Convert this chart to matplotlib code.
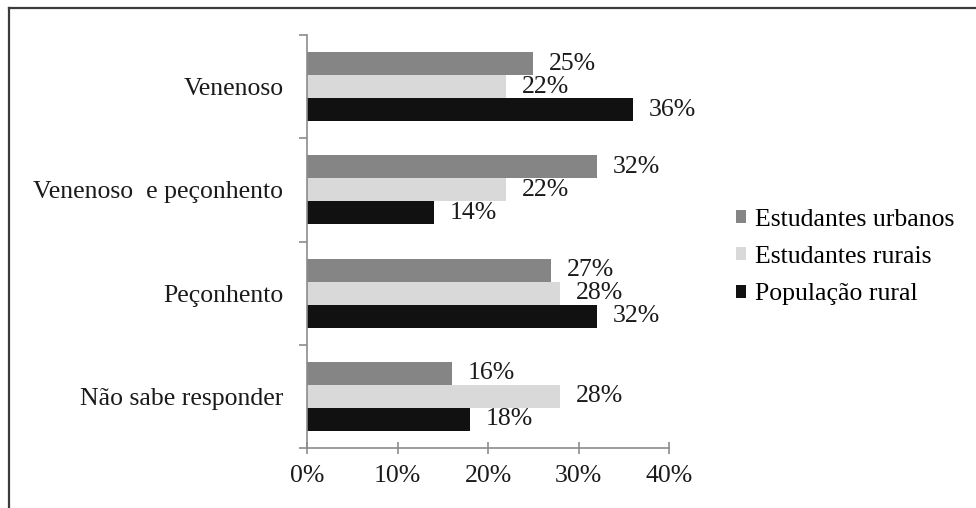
import matplotlib
matplotlib.use('Agg')
import matplotlib.pyplot as plt
from matplotlib.patches import Patch
from matplotlib.lines import Line2D
import numpy as np

# Survey answers (percent), categories listed top to bottom
categories = ['Venenoso', 'Venenoso  e peçonhento', 'Peçonhento', 'Não sabe responder']
series_names = ['Estudantes urbanos', 'Estudantes rurais', 'População rural']
urbanos = [25, 32, 27, 16]
rurais = [22, 22, 28, 28]
populacao = [36, 14, 32, 18]
x_ticks = [0, 10, 20, 30, 40]

colors = ['#858585', '#d9d9d9', '#111111']
FONT = 'Liberation Serif'
FS = 18.5

plt.rcParams['font.family'] = [FONT, 'DejaVu Serif']


def main():
    fig = plt.figure(figsize=(9.76, 5.08), dpi=100)
    ax = fig.add_axes([307 / 976, 1 - 448 / 508, (669 - 307) / 976, (448 - 35) / 508])

    n = len(categories)
    y = np.arange(n)
    bar_h = 1 / 1.5 / 3
    offsets = [-bar_h, 0, bar_h]

    for vals, off, col in zip([urbanos, rurais, populacao], offsets, colors):
        ax.barh(y + off, vals, height=bar_h, color=col, edgecolor='none')
        for yi, v in zip(y, vals):
            ax.text(v + 1.75, yi + off, f'{v}%', ha='left', va='center',
                    fontsize=FS, color='#1a1a1a')

    ax.set_xlim(0, 40)
    ax.set_ylim(n - 0.5, -0.5)

    # axes styling
    for side in ['top', 'right']:
        ax.spines[side].set_visible(False)
    for side in ['left', 'bottom']:
        ax.spines[side].set_color('#8c8c8c')
        ax.spines[side].set_linewidth(1.2)

    ax.set_xticks(x_ticks)
    ax.set_xticklabels([f'{t}%' for t in x_ticks], fontsize=FS, color='#1a1a1a')
    ax.tick_params(axis='x', direction='inout', length=9, width=1.2, color='#8c8c8c', pad=8)

    ax.set_yticks(y)
    ax.set_yticklabels(categories, fontsize=FS, color='#1a1a1a')
    ax.set_yticks(np.arange(n + 1) - 0.5, minor=True)
    ax.tick_params(axis='y', which='major', length=0, pad=17)
    ax.tick_params(axis='y', which='minor', length=6, width=1.2, color='#8c8c8c')

    handles = [Patch(facecolor=c, edgecolor='none') for c in colors]
    fig.legend(handles, series_names, loc='center left',
               bbox_to_anchor=(736 / 976, 1 - 257 / 508),
               bbox_transform=fig.transFigure, frameon=False,
               fontsize=FS, handlelength=0.4, handleheight=0.4,
               handletextpad=0.35, labelspacing=0.6,
               borderpad=0, borderaxespad=0)

    # outer frame (left and top edges)
    fig.add_artist(Line2D([8.5 / 976, 8.5 / 976], [0, 1 - 7.5 / 508],
                          transform=fig.transFigure, color='#3c3c3c', lw=1.6))
    fig.add_artist(Line2D([8.5 / 976, 1], [1 - 7.5 / 508, 1 - 7.5 / 508],
                          transform=fig.transFigure, color='#3c3c3c', lw=1.6))

    fig.savefig('out.png', dpi=100, facecolor='white')
    plt.close(fig)


if __name__ == '__main__':
    main()
